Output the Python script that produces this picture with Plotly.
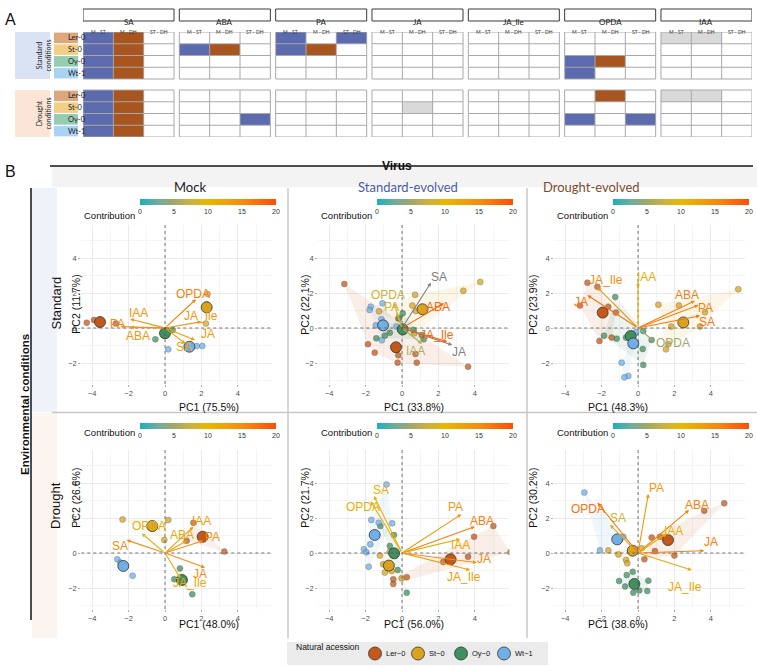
import plotly.graph_objects as go
from plotly.colors import sample_colorscale

W, H = 757, 666


def X(p):
    return p / W


def Y(p):
    return 1 - p / H


# ---------------- panel A data ----------------
hormones = ["SA", "ABA", "PA", "JA", "JA_Ile", "OPDA", "IAA"]
comparisons = ["M - ST", "M - DH", "ST - DH"]
accessions = ["Ler-0", "St-0", "Oy-0", "Wt-1"]

# 0 = no change, 1 = blue, 2 = brown, 3 = grey; rows follow `accessions`
standard_sig = {
    "SA": [[1, 2, 0], [1, 2, 0], [1, 2, 0], [1, 2, 0]],
    "ABA": [[0, 0, 0], [1, 2, 0], [0, 0, 0], [0, 0, 0]],
    "PA": [[1, 0, 1], [1, 2, 0], [0, 0, 0], [0, 0, 0]],
    "JA": [[0, 0, 0], [0, 0, 0], [0, 0, 0], [0, 0, 0]],
    "JA_Ile": [[0, 0, 0], [0, 0, 0], [0, 0, 0], [0, 0, 0]],
    "OPDA": [[0, 0, 0], [0, 0, 0], [1, 2, 0], [1, 0, 0]],
    "IAA": [[3, 3, 0], [0, 0, 0], [0, 0, 0], [0, 0, 0]],
}
drought_sig = {
    "SA": [[1, 2, 0], [1, 2, 0], [1, 2, 0], [1, 2, 0]],
    "ABA": [[0, 0, 0], [0, 0, 0], [0, 0, 1], [0, 0, 0]],
    "PA": [[0, 0, 0], [0, 0, 0], [0, 0, 0], [0, 0, 0]],
    "JA": [[0, 0, 0], [0, 3, 0], [0, 0, 0], [0, 0, 0]],
    "JA_Ile": [[0, 0, 0], [0, 0, 0], [0, 0, 0], [0, 0, 0]],
    "OPDA": [[0, 2, 0], [0, 0, 0], [1, 0, 1], [0, 0, 0]],
    "IAA": [[3, 3, 0], [0, 0, 0], [0, 0, 0], [0, 0, 0]],
}

# ---------------- panel B data ----------------
variables = ["SA", "ABA", "PA", "JA", "JA_Ile", "OPDA", "IAA"]
virus = ["Mock", "Standard-evolved", "Drought-evolved"]
environment = ["Standard", "Drought"]
pc1_pct = [75.5, 33.8, 48.3, 48.0, 56.0, 38.6]
pc2_pct = [11.7, 22.1, 23.9, 26.6, 21.7, 30.2]

# Mock / standard
mock_std_pc1 = [1.14, -1.92, -2.44, 1.65, 2.00, 1.70, -1.92]
mock_std_pc2 = [-0.91, 0.03, 0.08, -0.69, 0.36, 1.64, 0.51]
mock_std_contrib = [12, 14, 15, 13, 14, 16, 14]
mock_std_ind = {
    "Ler-0": ([-4.30, -3.90, -2.70], [0.30, 0.46, 0.25]),
    "St-0": ([2.34, 2.25, 2.29], [1.94, 0.25, 1.35]),
    "Oy-0": ([-0.53, 0.42, 0.10], [-0.65, -0.11, -0.15]),
    "Wt-1": ([1.74, 2.05, 0.18, 1.40], [-1.03, -1.03, -1.22, -1.00]),
}
mock_std_mean = {"Ler-0": (-3.57, 0.34), "St-0": (2.29, 1.18), "Oy-0": (0.00, -0.30), "Wt-1": (1.34, -1.07)}

# Standard-evolved / standard
stdev_std_pc1 = [1.59, 2.30, -0.30, 2.76, 2.48, -0.45, 1.09]
stdev_std_pc2 = [2.59, 1.41, 0.90, -0.97, -0.78, 1.45, -0.91]
stdev_std_contrib = [22, 18, 8, 21, 18, 8, 6]
stdev_std_ind = {
    "Ler-0": ([-3.17, -1.87, -1.50, -0.24, -0.20, 0.74, 0.81, 3.63],
              [2.51, -0.93, -1.41, -1.98, -1.56, -1.49, -1.98, -2.21]),
    "St-0": ([0.72, 3.37, 4.30, 0.57, -1.26, 0.76, 0.67, -0.20],
             [1.90, 2.13, 2.63, 1.28, 0.95, 0.97, -0.30, 0.55]),
    "Oy-0": ([0.04, -0.17, -0.67, -0.94, -1.41, 1.19, 0.63, 1.09],
             [0.84, 0.55, -0.27, -0.44, -0.59, -0.65, -0.11, -0.40]),
    "Wt-1": ([-1.72, -1.78, -1.13, -1.44, -1.11, -1.07, -0.30],
             [1.22, 1.03, 0.50, 0.15, -0.70, 1.41, 0.08]),
}
stdev_std_mean = {"Ler-0": (-0.33, -1.10), "St-0": (1.13, 1.07), "Oy-0": (0.04, -0.08), "Wt-1": (-1.04, 0.15)}

# Drought-evolved / standard
drev_std_pc1 = [3.41, 3.13, 3.32, -2.78, -2.23, 0.84, 0.00]
drev_std_pc2 = [0.70, 1.56, 1.31, 1.87, 2.32, -0.72, 2.65]
drev_std_contrib = [17, 16, 16, 17, 15, 5, 11]
drev_std_ind = {
    "Ler-0": ([-2.78, -2.23, -3.19, -1.63, -1.21, -1.45, -2.12],
              [2.59, 2.36, 1.28, 1.22, 0.88, -0.55, -0.74]),
    "St-0": ([5.51, 3.68, 2.25, 1.12, 1.83, 3.41, 1.67, 1.54],
             [2.21, 0.90, 1.28, 1.33, 0.08, 0.08, -0.91, -1.22]),
    "Oy-0": ([-1.25, -1.87, -1.17, -0.66, 0.29, 0.75, 0.26, 0.29],
             [1.77, -0.44, -0.61, -0.55, -0.17, -0.69, -1.20, -2.11]),
    "Wt-1": ([-0.11, -0.90, -0.53, -0.75], [-0.25, -1.98, -2.74, -2.82]),
}
drev_std_mean = {"Ler-0": (-1.94, 0.88), "St-0": (2.49, 0.32), "Oy-0": (-0.40, -0.46), "Wt-1": (-0.26, -0.88)}

# Mock / drought
mock_dr_pc1 = [-2.11, 1.19, 2.10, 2.20, 0.85, -1.28, 1.56]
mock_dr_pc2 = [0.74, 0.70, 0.70, -0.84, -1.45, 1.12, 1.50]
mock_dr_contrib = [15, 12, 15, 15, 12, 9, 13]
mock_dr_ind = {
    "Ler-0": ([1.19, 3.26, 1.56], [0.70, 0.08, 1.73]),
    "St-0": ([-2.33, 0.18, -0.04], [1.92, 1.89, 0.74]),
    "Oy-0": ([0.82, 0.51, 1.50], [-0.88, -1.50, -2.36]),
    "Wt-1": ([-2.62, -1.78, -2.45], [-0.36, -1.30, -0.55]),
}
mock_dr_mean = {"Ler-0": (2.07, 0.93), "St-0": (-0.70, 1.54), "Oy-0": (0.93, -1.54), "Wt-1": (-2.29, -0.74)}

# Standard-evolved / drought
stdev_dr_pc1 = [-1.54, 4.00, 3.26, 4.11, 3.74, -1.72, 3.19]
stdev_dr_pc2 = [3.26, 1.50, 2.21, -0.55, -0.97, 2.95, 0.80]
stdev_dr_contrib = [11, 16, 14, 15, 13, 11, 12]
stdev_dr_ind = {
    "Ler-0": ([5.02, 3.96, 5.96, 3.63, 2.26, 0.26, -0.48, -0.48],
              [1.54, 0.93, 0.04, -0.21, -0.51, -1.39, -1.50, -1.77]),
    "St-0": ([-1.22, -0.94, -1.04, -0.67, -0.57, -0.02],
             [-0.15, -1.12, -0.65, 0.08, -1.03, -1.45]),
    "Oy-0": ([-1.19, -0.44, -0.24, 0.26, -0.67], [1.54, 1.03, -0.97, -2.27, 0.40]),
    "Wt-1": ([-0.85, -1.69, -1.28, -0.54, -2.09, -1.96, -1.74, -1.83],
             [3.92, 1.89, 1.73, 1.70, 0.21, 0.04, 0.50, -0.78]),
}
stdev_dr_mean = {"Ler-0": (2.67, -0.36), "St-0": (-0.72, -0.72), "Oy-0": (-0.43, -0.02), "Wt-1": (-1.50, 1.03)}

# Drought-evolved / drought
drev_dr_pc1 = [-1.54, 2.80, 0.57, 3.64, 2.95, -2.23, 1.58]
drev_dr_pc2 = [1.60, 2.46, 3.37, 0.13, -0.97, 2.88, 1.12]
drev_dr_contrib = [8, 16, 14, 16, 12, 17, 11]
drev_dr_ind = {
    "Ler-0": ([4.74, 3.64, 0.75, 0.93, 2.00, 0.35, 1.21], [2.84, 2.42, 0.88, 0.11, -0.15, -0.36, 0.93]),
    "St-0": ([-1.63, -1.08, -0.66, -0.59, 0.20], [0.15, -0.08, -0.40, -0.59, 0.27]),
    "Oy-0": ([-0.62, -0.29, -1.04, 0.57, 0.07, -0.26, 0.51, -0.71],
             [-1.26, -1.07, -1.60, -1.58, -2.15, -2.27, -2.17, -1.92]),
    "Wt-1": ([-2.95, -2.09, -0.81], [3.45, 0.15, 0.93]),
}
drev_dr_mean = {"Ler-0": (1.65, 0.74), "St-0": (-0.29, 0.13), "Oy-0": (-0.20, -1.77), "Wt-1": (-1.14, 0.78)}

panels = [
    (mock_std_pc1, mock_std_pc2, mock_std_contrib, mock_std_ind, mock_std_mean),
    (stdev_std_pc1, stdev_std_pc2, stdev_std_contrib, stdev_std_ind, stdev_std_mean),
    (drev_std_pc1, drev_std_pc2, drev_std_contrib, drev_std_ind, drev_std_mean),
    (mock_dr_pc1, mock_dr_pc2, mock_dr_contrib, mock_dr_ind, mock_dr_mean),
    (stdev_dr_pc1, stdev_dr_pc2, stdev_dr_contrib, stdev_dr_ind, stdev_dr_mean),
    (drev_dr_pc1, drev_dr_pc2, drev_dr_contrib, drev_dr_ind, drev_dr_mean),
]

# label nudges in pixels (dx right, dy down), purely cosmetic
label_nudge = [
    {"SA": (-2, 3), "ABA": (8, 9), "PA": (-3, -3), "JA": (13, -6), "JA_Ile": (0, -6), "OPDA": (-3, -5), "IAA": (8, -6)},
    {"SA": (8, -6), "ABA": (-6, 4), "PA": (-5, -5), "JA": (7, 7), "JA_Ile": (-10, -7), "OPDA": (-6, -8), "IAA": (-6, 7)},
    {"SA": (7, 6), "ABA": (-8, -6), "PA": (7, 3), "JA": (-6, 7), "JA_Ile": (9, -7), "OPDA": (20, 2), "IAA": (8, -5)},
    {"SA": (-7, 6), "ABA": (-5, -6), "PA": (9, -4), "JA": (-5, 6), "JA_Ile": (10, 5), "OPDA": (7, -7), "IAA": (8, -6)},
    {"SA": (7, -6), "ABA": (7, -6), "PA": (-6, -7), "JA": (7, -4), "JA_Ile": (-6, 7), "OPDA": (-8, 6), "IAA": (0, 6)},
    {"SA": (8, -7), "ABA": (8, -5), "PA": (8, -6), "JA": (7, -9), "JA_Ile": (-7, 17), "OPDA": (-9, 6), "IAA": (7, -2)},
]

# ---------------- styles ----------------
SANS = "Liberation Sans, Arial, sans-serif"
SOFT = "Lato, Open Sans, sans-serif"
acc_color = {"Ler-0": "#C2581A", "St-0": "#D9A21F", "Oy-0": "#3F8F5F", "Wt-1": "#6FAEE6"}
acc_rgb = {"Ler-0": (194, 88, 26), "St-0": (217, 162, 31), "Oy-0": (63, 143, 95), "Wt-1": (111, 174, 230)}
acc_box = {"Ler-0": "#DCA77C", "St-0": "#F3CF86", "Oy-0": "#96CCB0", "Wt-1": "#AAD2F2"}
CONTRIB_CS = [[0, "#1BB0BC"], [0.125, "#6AAE9C"], [0.25, "#9FA86C"], [0.375, "#CDB13E"],
              [0.5, "#E7B800"], [0.75, "#F58D10"], [1, "#FC4E07"]]
CMAX = 20


def contrib_color(v):
    if v > CMAX:
        return "#7F7F7F"
    return sample_colorscale(CONTRIB_CS, v / CMAX)[0]


def hull(xs, ys):
    pts = sorted(set(zip(xs, ys)))
    if len(pts) < 3:
        return pts

    def cross(o, a, b):
        return (a[0] - o[0]) * (b[1] - o[1]) - (a[1] - o[1]) * (b[0] - o[0])
    lower, upper = [], []
    for p in pts:
        while len(lower) >= 2 and cross(lower[-2], lower[-1], p) <= 0:
            lower.pop()
        lower.append(p)
    for p in reversed(pts):
        while len(upper) >= 2 and cross(upper[-2], upper[-1], p) <= 0:
            upper.pop()
        upper.append(p)
    return lower[:-1] + upper[:-1]


fig = go.Figure()
shapes, annos = [], []
layout = {}

# ================= panel A =================
GAP = 0.175
YGAP = 0.936
step = 3 + GAP
x_edges = []
for g in range(len(hormones)):
    x_edges += [g * step + k for k in range(4)]
heat_cs = [[0, "white"], [0.25, "white"], [0.25, "#5B6BAE"], [0.5, "#5B6BAE"],
           [0.5, "#A9551F"], [0.75, "#A9551F"], [0.75, "#D9D9D9"], [1, "#D9D9D9"]]


def block(sig):
    z = []
    for r in range(len(accessions)):
        row = []
        for g, h in enumerate(hormones):
            row += sig[h][r]
            if g < len(hormones) - 1:
                row.append(None)
        z.append(row)
    return z


block_y0 = [0, 4 + YGAP]
for y0, sig in zip(block_y0, [standard_sig, drought_sig]):
    fig.add_trace(go.Heatmap(z=block(sig), x=x_edges, y=[y0 + k for k in range(5)],
                             colorscale=heat_cs, zmin=-0.5, zmax=3.5, showscale=False,
                             hoverinfo="skip", xaxis="x", yaxis="y"))

gx, gy = [], []
for y0 in block_y0:
    for g in range(len(hormones)):
        x0 = g * step
        for k in range(5):
            gx += [x0, x0 + 3, None]
            gy += [y0 + k, y0 + k, None]
        for k in range(4):
            gx += [x0 + k, x0 + k, None]
            gy += [y0, y0 + 4, None]
fig.add_trace(go.Scatter(x=gx, y=gy, mode="lines", line=dict(color="#A8A8A8", width=1),
                         hoverinfo="skip", showlegend=False, xaxis="x", yaxis="y"))

layout["xaxis"] = dict(domain=[X(83), X(752)], range=[0, 6 * step + 3], visible=False, anchor="y")
layout["yaxis"] = dict(domain=[Y(137), Y(32)], range=[8 + YGAP, 0], visible=False, anchor="x")

for g, h in enumerate(hormones):
    shapes.append(dict(type="rect", xref="x", yref="paper", x0=g * step, x1=g * step + 3,
                       y0=Y(21), y1=Y(9), line=dict(color="#3A3A3A", width=1)))
    annos.append(dict(x=g * step + 1.5, y=Y(15), xref="x", yref="paper", text=h, showarrow=False,
                      font=dict(family=SOFT, size=8, color="#222")))
    for c, comp in enumerate(comparisons):
        annos.append(dict(x=g * step + c + 0.5, y=Y(27.5), xref="x", yref="paper", text=comp,
                          showarrow=False, font=dict(family=SOFT, size=5, color="#333")))

for y0, name, fill in zip(block_y0, ["Standard<br>conditions", "Drought<br>conditions"],
                          ["#DAE3F3", "#FBE5D6"]):
    shapes.append(dict(type="rect", xref="paper", yref="y", x0=X(15), x1=X(50), y0=y0, y1=y0 + 4,
                       fillcolor=fill, line=dict(width=0), layer="below"))
    annos.append(dict(x=X(32.5), y=y0 + 2, xref="paper", yref="y", text=name, textangle=-90,
                      showarrow=False, font=dict(family=SOFT, size=7, color="#222")))
    for i, acc in enumerate(accessions):
        shapes.append(dict(type="rect", xref="paper", yref="y", x0=X(54), x1=X(78),
                           y0=y0 + i + 0.05, y1=y0 + i + 0.95, fillcolor=acc_box[acc],
                           line=dict(width=0), layer="below"))
        annos.append(dict(x=X(66), y=y0 + i + 0.5, xref="paper", yref="y", text=acc,
                          showarrow=False, font=dict(family=SOFT, size=7.5, color="#222")))

annos.append(dict(x=X(3), y=Y(9), xref="paper", yref="paper", text="A", xanchor="left",
                  showarrow=False, font=dict(family=SANS, size=16, color="#111")))
annos.append(dict(x=X(3), y=Y(161), xref="paper", yref="paper", text="B", xanchor="left",
                  showarrow=False, font=dict(family=SANS, size=16, color="#111")))

# ================= panel B frame =================
annos.append(dict(x=X(397), y=Y(157), xref="paper", yref="paper", text="<b>Virus</b>",
                  showarrow=False, font=dict(family=SANS, size=12, color="#111")))
shapes.append(dict(type="line", xref="paper", yref="paper", x0=X(50), x1=X(753), y0=Y(166), y1=Y(166),
                   line=dict(color="#111", width=1.5)))
shapes.append(dict(type="rect", xref="paper", yref="paper", x0=X(52), x1=X(757), y0=Y(187), y1=Y(167),
                   fillcolor="#F3F3F3", line=dict(width=0), layer="below"))
strip_x = [172, 408, 642]
strip_col = ["#222222", "#4A5AA6", "#7D4A2C"]
for v, sx, sc in zip(virus, strip_x, strip_col):
    annos.append(dict(x=X(sx), y=Y(177), xref="paper", yref="paper", text=v, showarrow=False,
                      font=dict(family=SOFT, size=13, color=sc)))

row_band = [(188, 412), (413, 638)]
row_fill = ["#F0F2FA", "#FCF4EE"]
row_text_y = [303, 531]
for env, (t, b), fill, ty in zip(environment, row_band, row_fill, row_text_y):
    shapes.append(dict(type="rect", xref="paper", yref="paper", x0=X(32), x1=X(57), y0=Y(b), y1=Y(t),
                       fillcolor=fill, line=dict(width=0), layer="below"))
    annos.append(dict(x=X(46), y=Y(ty), xref="paper", yref="paper", text=env, textangle=-90,
                      showarrow=False, font=dict(family=SANS, size=13, color="#111")))
shapes.append(dict(type="line", xref="paper", yref="paper", x0=X(31), x1=X(31), y0=Y(620), y1=Y(188),
                   line=dict(color="#111", width=1.5)))
annos.append(dict(x=X(17), y=Y(405), xref="paper", yref="paper", text="<b>Environmental conditions</b>",
                  textangle=-90, showarrow=False, font=dict(family=SANS, size=11.5, color="#111")))
for sxp in [288, 527]:
    shapes.append(dict(type="line", xref="paper", yref="paper", x0=X(sxp), x1=X(sxp), y0=Y(638), y1=Y(188),
                       line=dict(color="#C8C8C8", width=1.5)))
shapes.append(dict(type="line", xref="paper", yref="paper", x0=X(52), x1=X(757), y0=Y(412.5), y1=Y(412.5),
                   line=dict(color="#C8C8C8", width=1.5)))

# ================= PCA biplots =================
COL_ZERO = [165, 402, 638]
ROW_ZERO = [328, 553]
XU, YU = 18.2, 17.5
XR, YR = [-4.6, 5.9], [-3.2, 5.9]
tickfont = dict(family=SANS, size=7.5, color="#4D4D4D")

for p, (pc1, pc2, contrib, ind, mean) in enumerate(panels):
    r, c = divmod(p, 3)
    n = p + 2
    xa, ya = f"x{n}", f"y{n}"
    left, right = COL_ZERO[c] + XR[0] * XU, COL_ZERO[c] + XR[1] * XU
    top, bottom = ROW_ZERO[r] - YR[1] * YU, ROW_ZERO[r] - YR[0] * YU
    axis_common = dict(showgrid=True, gridcolor="#EAEAEA", gridwidth=0.8, zeroline=False,
                       dtick=2, tick0=0, ticks="outside", ticklen=2, tickcolor="#B0B0B0",
                       tickfont=tickfont, showline=False, automargin=False,
                       minor=dict(dtick=1, showgrid=True, gridcolor="#F5F5F5", gridwidth=0.6))
    layout[f"xaxis{n}"] = dict(domain=[X(left), X(right)], range=XR, anchor=ya, **axis_common)
    layout[f"yaxis{n}"] = dict(domain=[Y(bottom), Y(top)], range=YR, anchor=xa, **axis_common)

    shapes.append(dict(type="line", xref=xa, yref=f"{ya} domain", x0=0, x1=0, y0=0, y1=1,
                       line=dict(color="#555", width=0.8, dash="dot")))
    shapes.append(dict(type="line", xref=f"{xa} domain", yref=ya, x0=0, x1=1, y0=0, y1=0,
                       line=dict(color="#555", width=0.8, dash="dot")))

    # hulls
    for acc in accessions:
        xs, ys = ind[acc]
        hp = hull(xs, ys)
        rr, gg, bb = acc_rgb[acc]
        fig.add_trace(go.Scatter(x=[q[0] for q in hp] + [hp[0][0]], y=[q[1] for q in hp] + [hp[0][1]],
                                 mode="lines", fill="toself", fillcolor=f"rgba({rr},{gg},{bb},0.10)",
                                 line=dict(width=0), hoverinfo="skip", showlegend=False,
                                 xaxis=xa, yaxis=ya))
    # individuals
    for acc in accessions:
        xs, ys = ind[acc]
        fig.add_trace(go.Scatter(x=xs, y=ys, mode="markers",
                                 marker=dict(size=6, color=acc_color[acc], opacity=0.75,
                                             line=dict(color="rgba(50,50,50,0.7)", width=0.5)),
                                 hoverinfo="skip", showlegend=False, xaxis=xa, yaxis=ya))
    # group means
    for acc in accessions:
        mx, my = mean[acc]
        fig.add_trace(go.Scatter(x=[mx], y=[my], mode="markers",
                                 marker=dict(size=11, color=acc_color[acc],
                                             line=dict(color="#333", width=0.8)),
                                 hoverinfo="skip", showlegend=False, xaxis=xa, yaxis=ya))
    # colour key carrier (invisible tips)
    cax = "coloraxis" if p == 0 else f"coloraxis{p + 1}"
    fig.add_trace(go.Scatter(x=pc1, y=pc2, mode="markers",
                             marker=dict(size=2, color=contrib, coloraxis=cax, opacity=0),
                             hoverinfo="skip", showlegend=False, xaxis=xa, yaxis=ya))
    bar_left = COL_ZERO[c] - 25
    bar_top = 199 + 224 * r
    layout[cax] = dict(cmin=0, cmax=CMAX, colorscale=CONTRIB_CS,
                       colorbar=dict(orientation="h", x=X(bar_left), xanchor="left", y=Y(bar_top),
                                     yanchor="top", len=136, lenmode="pixels", thickness=6,
                                     thicknessmode="pixels", outlinewidth=0, xpad=0, ypad=0,
                                     tickvals=[0, 5, 10, 15, 20], ticks="", ticklen=0,
                                     tickfont=dict(family=SANS, size=7, color="#333"),
                                     title=dict(text="")))
    annos.append(dict(x=X(bar_left - 3), y=Y(bar_top + 9), xref="paper", yref="paper", xanchor="right",
                      text="Contribution", showarrow=False, font=dict(family=SANS, size=9.5, color="#111")))

    # arrows + labels
    for v, vx, vy, cv in zip(variables, pc1, pc2, contrib):
        col = contrib_color(cv)
        annos.append(dict(x=vx, y=vy, ax=0, ay=0, xref=xa, yref=ya, axref=xa, ayref=ya, text="",
                          showarrow=True, arrowhead=2, arrowsize=0.7, arrowwidth=1.1, arrowcolor=col,
                          standoff=0, startstandoff=0))
        dx, dy = label_nudge[p][v]
        annos.append(dict(x=vx, y=vy, xref=xa, yref=ya, text=v, showarrow=False, xshift=dx, yshift=-dy,
                          font=dict(family=SANS, size=12, color=col)))

    # axis titles
    annos.append(dict(x=X((left + right) / 2), y=Y(bottom + 23), xref="paper", yref="paper",
                      text=f"PC1 ({pc1_pct[p]:.1f}%)", showarrow=False,
                      font=dict(family=SANS, size=10.5, color="#111")))
    annos.append(dict(x=X(left - 13), y=Y((top + bottom) / 2), xref="paper", yref="paper",
                      text=f"PC2 ({pc2_pct[p]:.1f}%)", textangle=-90, showarrow=False,
                      font=dict(family=SANS, size=10.5, color="#111")))

# ================= legend (drawn manually) =================
shapes.append(dict(type="rect", xref="paper", yref="paper", x0=X(287), x1=X(548), y0=Y(665), y1=Y(642),
                   fillcolor="#EBEBEB", line=dict(width=0), layer="below"))
annos.append(dict(x=X(294), y=Y(653.5), xref="paper", yref="paper", xanchor="left", text="Natural acession",
                  showarrow=False, font=dict(family=SANS, size=8.5, color="#111")))
layout["xaxis8"] = dict(domain=[X(360), X(560)], range=[-0.349, 4.302], visible=False, anchor="y8")
layout["yaxis8"] = dict(domain=[Y(662), Y(645)], range=[-1, 1], visible=False, anchor="x8")
fig.add_trace(go.Scatter(x=list(range(len(accessions))), y=[0] * len(accessions), mode="markers",
                         marker=dict(size=13, color=[acc_color[a] for a in accessions],
                                     line=dict(color="#333", width=0.8)),
                         hoverinfo="skip", showlegend=False, xaxis="x8", yaxis="y8"))
for i, acc in enumerate(accessions):
    annos.append(dict(x=i, y=0, xref="x8", yref="y8", xanchor="left", xshift=9,
                      text=acc.replace("-", "\u2212"), showarrow=False,
                      font=dict(family=SANS, size=7.5, color="#111")))

fig.update_layout(width=W, height=H, margin=dict(l=0, r=0, t=0, b=0, autoexpand=False),
                  paper_bgcolor="white", plot_bgcolor="white", showlegend=False,
                  shapes=shapes, annotations=annos, **layout)
fig.write_html("out.html", config={"displayModeBar": False},
               post_script="document.body.style.margin='0px';")
